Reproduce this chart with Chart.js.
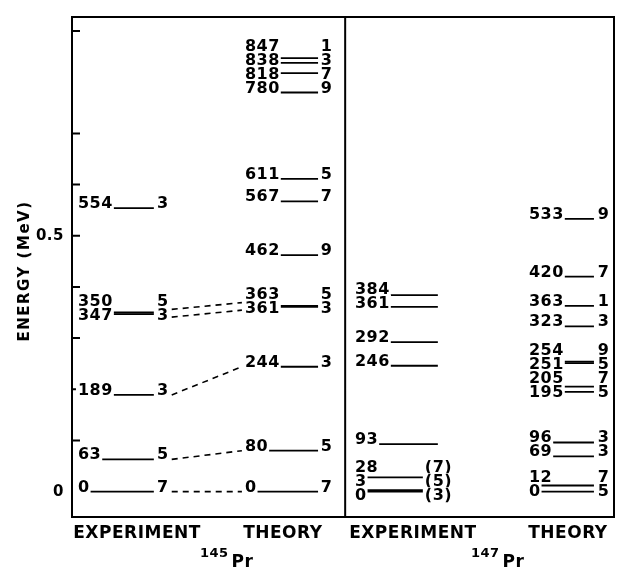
<!DOCTYPE html>
<html>
<head>
<meta charset="utf-8">
<script src="https://cdn.jsdelivr.net/npm/chart.js@4.4.0/dist/chart.umd.min.js"></script>
<style>
  html, body { margin: 0; padding: 0; background: #fff; }
</style>
</head>
<body>
<canvas id="grafico" width="623" height="572"></canvas>
<script>
// niveles de energia en keV y su espin (2J) para cada columna
const pr145ExpE = [0, 63, 189, 347, 350, 554];
const pr145ExpJ = ["7", "5", "3", "3", "5", "3"];
const pr145TeoE = [0, 80, 244, 361, 363, 462, 567, 611, 780, 818, 838, 847];
const pr145TeoJ = ["7", "5", "3", "3", "5", "9", "7", "5", "9", "7", "3", "1"];
const pr147ExpE = [0, 3, 28, 93, 246, 292, 361, 384];
const pr147ExpJ = ["(3)", "(5)", "(7)", "", "", "", "", ""];
const pr147TeoE = [0, 12, 69, 96, 195, 205, 251, 254, 323, 363, 420, 533];
const pr147TeoJ = ["5", "7", "3", "3", "5", "7", "5", "9", "3", "1", "7", "9"];

// pares experimento -> teoria unidos con guiones (145Pr)
const enlaceExp = [0, 63, 189, 347, 350];
const enlaceTeo = [0, 80, 244, 361, 363];

const columnas = ["EXPERIMENT", "THEORY", "EXPERIMENT", "THEORY"];
const nucleos = ["145", "147"];
const marcasY = [0.1, 0.2, 0.3, 0.4, 0.5, 0.6, 0.7, 0.9]; // marcas dibujadas (no hay en 0.8)
const etiquetasY = [0, 0.5];

// disposicion horizontal (unidades del eje x, 0..100)
const cols = [
  { etq: 1.1, fin: 15.1, spin: 15.7, centro: 12.0 },
  { etq: 31.9, fin: 45.4, spin: 45.9, centro: 38.9 },
  { etq: 52.2, fin: 67.5, spin: 65.1, centro: 62.9 },
  { etq: 84.3, fin: 96.3, spin: 97.0, centro: 91.5 },
];
const divisor = 50.4;
const posNucleo = [23.6, 73.6];
const niveles = [
  [pr145ExpE, pr145ExpJ],
  [pr145TeoE, pr145TeoJ],
  [pr147ExpE, pr147ExpJ],
  [pr147TeoE, pr147TeoJ],
];

const fuente = '"DejaVu Sans", sans-serif';

// un dataset por nivel: segmento horizontal
const datasets = [];
niveles.forEach(([energias], c) => {
  for (const e of energias) {
    datasets.push({
      data: [
        { x: cols[c].etq, y: e / 1000 },
        { x: cols[c].fin, y: e / 1000 },
      ],
      borderColor: "#000",
      borderWidth: 1.8,
      pointRadius: 0,
      fill: false,
    });
  }
});

// separa etiquetas que se pisan, centrando cada grupo
function repartir(ys, sep) {
  let grupos = ys.map((y) => ({ n: 1, suma: y, top: y }));
  let cambio = true;
  while (cambio) {
    cambio = false;
    for (let k = 0; k < grupos.length - 1; k++) {
      const a = grupos[k], b = grupos[k + 1];
      if (b.top - (a.top + (a.n - 1) * sep) < sep) {
        const g = { n: a.n + b.n, suma: a.suma + b.suma };
        g.top = g.suma / g.n - ((g.n - 1) * sep) / 2;
        grupos.splice(k, 2, g);
        cambio = true;
        break;
      }
    }
  }
  const res = [];
  for (const g of grupos) for (let j = 0; j < g.n; j++) res.push(g.top + j * sep);
  return res;
}

function texto(ctx, s, x, y) {
  const w = ctx.measureText(s).width;
  ctx.fillStyle = "#fff";
  ctx.fillRect(x - 2, y - 13, w + 3, 15);
  ctx.fillStyle = "#000";
  ctx.fillText(s, x, y);
  return w;
}

const textos = {
  id: "textos",
  beforeDraw(chart) {
    chart.ctx.letterSpacing = "0.5px";
  },
  beforeDatasetsDraw(chart) {
    const ctx = chart.ctx;
    const xs = chart.scales.x, ys = chart.scales.y;
    const area = chart.chartArea;
    ctx.save();
    // marco: arriba, derecha y division central
    ctx.strokeStyle = "#000";
    ctx.lineWidth = 2;
    const xd = xs.getPixelForValue(divisor);
    ctx.beginPath();
    ctx.moveTo(area.left, area.top);
    ctx.lineTo(area.right, area.top);
    ctx.lineTo(area.right, area.bottom);
    ctx.moveTo(xd, area.top);
    ctx.lineTo(xd, area.bottom);
    // marcas del eje y hacia adentro
    for (const v of marcasY) {
      const y = ys.getPixelForValue(v);
      ctx.moveTo(area.left, y);
      ctx.lineTo(area.left + 8, y);
    }
    ctx.stroke();
    ctx.restore();
  },
  afterDatasetsDraw(chart) {
    const ctx = chart.ctx;
    const xs = chart.scales.x, ys = chart.scales.y;
    ctx.save();
    ctx.letterSpacing = "0.5px";
    ctx.font = "bold 16px " + fuente;
    ctx.textBaseline = "alphabetic";
    ctx.textAlign = "left";

    const pos = [];
    niveles.forEach(([energias, spins], c) => {
      const orden = energias.map((e, i) => i).sort((a, b) => energias[b] - energias[a]);
      const lineas = orden.map((i) => ys.getPixelForValue(energias[i] / 1000));
      const filas = repartir(lineas, 14);
      const p = {};
      orden.forEach((i, k) => {
        const fila = filas[k];
        texto(ctx, String(energias[i]), xs.getPixelForValue(cols[c].etq), fila);
        let fin = 0;
        if (spins[i]) {
          const xsp = xs.getPixelForValue(cols[c].spin);
          fin = xsp + texto(ctx, spins[i], xsp, fila);
        }
        p[energias[i]] = { y: (lineas[k] + fila) / 2, fin };
      });
      pos.push(p);
    });

    // guiones entre experimento y teoria
    ctx.strokeStyle = "#000";
    ctx.lineWidth = 1.6;
    ctx.setLineDash([6, 5]);
    enlaceExp.forEach((e, i) => {
      const a = pos[0][e], b = pos[1][enlaceTeo[i]];
      ctx.beginPath();
      ctx.moveTo(a.fin + 3, a.y);
      ctx.lineTo(xs.getPixelForValue(cols[1].etq) - 3, b.y);
      ctx.stroke();
    });
    ctx.setLineDash([]);

    // titulo del eje y
    ctx.save();
    ctx.translate(25, 271);
    ctx.rotate(-Math.PI / 2);
    ctx.letterSpacing = "1.5px";
    ctx.font = "bold 15px " + fuente;
    ctx.textAlign = "center";
    ctx.textBaseline = "middle";
    ctx.fillText("ENERGY (MeV)", 0, 0);
    ctx.restore();

    // nucleos
    nucleos.forEach((n, i) => {
      const x = xs.getPixelForValue(posNucleo[i]);
      ctx.font = "bold 13px " + fuente;
      ctx.fillText(n, x, 557);
      const w = ctx.measureText(n).width;
      ctx.font = "bold 17px " + fuente;
      ctx.fillText("Pr", x + w + 3, 567);
    });
    ctx.restore();
  },
};

new Chart(document.getElementById("grafico").getContext("2d"), {
  type: "line",
  data: { datasets },
  plugins: [textos],
  options: {
    responsive: false,
    animation: false,
    events: [],
    layout: { padding: { top: 5, right: 9, left: 0, bottom: 0 } },
    plugins: { legend: { display: false }, tooltip: { enabled: false } },
    scales: {
      x: {
        type: "linear",
        min: 0,
        max: 100,
        afterBuildTicks: (s) => { s.ticks = cols.map((c) => ({ value: c.centro })); },
        afterFit: (s) => { s.height = 55; },
        grid: { display: false, drawTicks: false },
        border: { display: true, color: "#000", width: 2 },
        ticks: {
          autoSkip: false,
          maxRotation: 0,
          padding: 6,
          color: "#000",
          font: { family: fuente, size: 17, weight: "bold" },
          callback: (v, i) => columnas[i],
        },
      },
      y: {
        min: -0.0496,
        max: 0.9275,
        afterBuildTicks: (s) => {
          s.ticks = [...etiquetasY, ...marcasY]
            .filter((v, i, a) => a.indexOf(v) === i)
            .sort((a, b) => a - b)
            .map((v) => ({ value: v }));
        },
        afterFit: (s) => { s.width = 72; },
        grid: { display: false, drawTicks: false },
        border: { display: true, color: "#000", width: 2 },
        ticks: {
          padding: 8,
          color: "#000",
          font: { family: fuente, size: 15, weight: "bold" },
          callback: (v) => (etiquetasY.includes(v) ? String(v) : ""),
        },
      },
    },
  },
});
</script>
</body>
</html>
